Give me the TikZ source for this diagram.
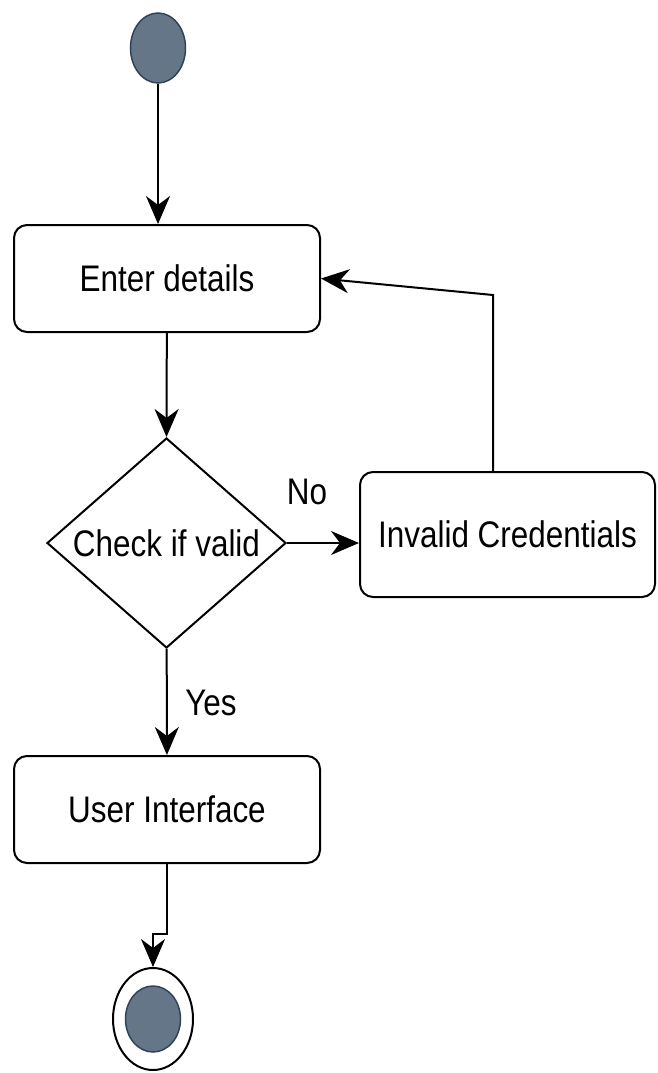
\documentclass[tikz,border=0pt]{standalone}
\usepackage{fontspec}
\setmainfont{Liberation Sans}[FakeStretch=0.85]
\usetikzlibrary{shapes.geometric,arrows.meta}
\definecolor{dotfill}{HTML}{647687}
\definecolor{dotline}{HTML}{314354}

\begin{document}
\begin{tikzpicture}
  [x=1pt,y=-1pt,line width=2pt,
   every node/.style={font=\fontsize{37}{44}\selectfont},
   act/.style={draw,rectangle,rounded corners=13pt,minimum width=306pt,minimum height=107pt},
   blob/.style={ellipse,draw=dotline,fill=dotfill,line width=1.5pt,minimum width=55pt,minimum height=70pt,inner sep=0pt},
   tip/.style={-{Stealth[length=28pt,width=24pt,inset=9pt]}}]
  \useasboundingbox (0,0) rectangle (657,1073);

  \node[blob] (start) at (158,48) {};
  \node[act] (enter) at (167,278.5) {Enter details};
  \node[diamond,draw,inner sep=0pt,aspect=1.14,minimum width=239pt,minimum height=210pt] (check) at (166.5,543) {Check if valid};
  \node[act,minimum width=295pt,minimum height=125pt] (inval) at (507.5,534.5) {Invalid Credentials};
  \node[act] (ui) at (167,809.5) {User Interface};
  \node[ellipse,draw,minimum width=80pt,minimum height=102pt,inner sep=0pt] (endout) at (153,1019) {};
  \node[blob,minimum height=66pt] (endin) at (153,1019) {};

  \node (no) at (307,492) {No};
  \node (yes) at (211,703) {Yes};

  \coordinate (back) at (493,295);
  \coordinate (jog1) at (167,934);
  \coordinate (jog2) at (153,934);

  \path[tip, draw]
        (start) edge (start |- enter.north)
        (enter) edge (check.north)
        (check) edge (check -| inval.west)
        (check) edge (ui);
  \draw[tip] (inval.north -| back) -- (back) -- (enter.east);
  \draw[tip] (ui.south) -- (jog1) -- (jog2) -- (endout.north);

\end{tikzpicture}
\end{document}
